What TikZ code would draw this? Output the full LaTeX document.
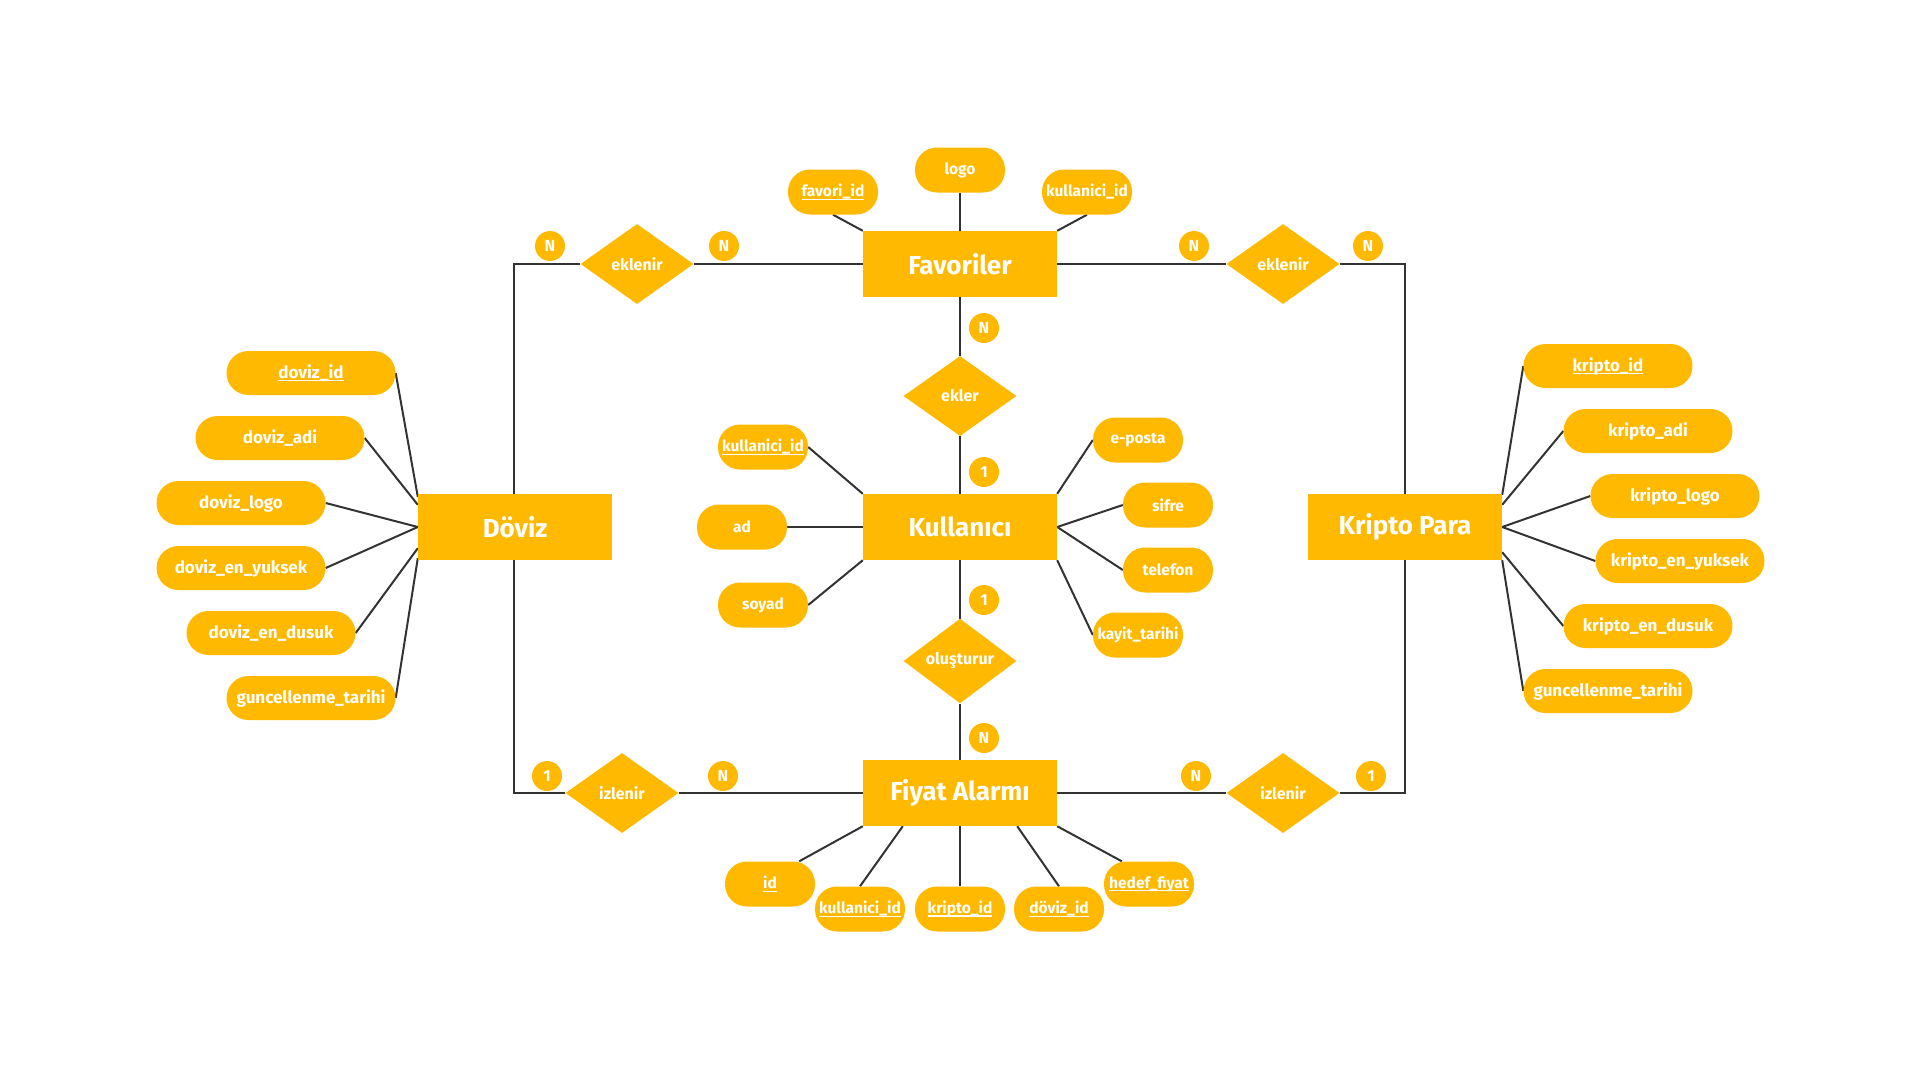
\documentclass[tikz,border=0pt]{standalone}
\usepackage{fontspec}
\setmainfont{Fira Sans}
\usetikzlibrary{shapes.geometric,calc}
\definecolor{ey}{RGB}{255,185,0}
\definecolor{ln}{RGB}{51,51,51}
\pgfdeclarelayer{bg}
\pgfsetlayers{bg,main}
\newcommand\myul[1]{\setbox0\hbox{#1}\leavevmode\rlap{\raisebox{-3pt}{\rule{\wd0}{1.2pt}}}\box0}
\begin{document}
\begin{tikzpicture}[x=1pt,y=-1pt,
 ent/.style={rectangle,fill=ey,text=white,minimum width=194pt,minimum height=66pt,inner sep=0pt,font=\fontsize{26}{28}\selectfont\bfseries},
 attrL/.style={rectangle,rounded corners=22pt,fill=ey,text=white,minimum width=169pt,minimum height=44pt,inner sep=0pt,font=\fontsize{17}{19}\selectfont\bfseries},
 attrS/.style={attrL,minimum width=90pt,minimum height=45pt,font=\fontsize{15.5}{17}\selectfont\bfseries},
 rel/.style={diamond,fill=ey,text=white,minimum width=113pt,minimum height=80pt,inner sep=0pt,font=\fontsize{16}{18}\selectfont\bfseries},
 card/.style={circle,fill=ey,text=white,minimum size=30pt,inner sep=0pt,font=\fontsize{16}{18}\selectfont\bfseries},
 conn/.style={draw=ln,line width=2pt},
]
\begin{pgfonlayer}{bg}
\fill[white] (0,0) rectangle (1920,1080);
\end{pgfonlayer}
\useasboundingbox (0,0) rectangle (1920,1080);

% entities
\node[ent] (fav) at (960,264) {Favoriler};
\node[ent] (dov) at (515,527) {Döviz};
\node[ent] (kul) at (960,527) {Kullanıcı};
\node[ent] (kri) at (1405,527) {Kripto Para};
\node[ent] (fiy) at (960,793) {Fiyat Alarmı};

% relationships
\node[rel] (ekL) at (637,264) {eklenir};
\node[rel] (ekR) at (1283,264) {eklenir};
\node[rel] (ekl) at (960,396) {ekler};
\node[rel] (olu) at (960,661) {oluşturur};
\node[rel] (izL) at (622,793) {izlenir};
\node[rel] (izR) at (1283,793) {izlenir};

% cardinalities
\node[card] (c1) at (550,246) {N};
\node[card] (c2) at (724,246) {N};
\node[card] (c3) at (1194,246) {N};
\node[card] (c4) at (1368,246) {N};
\node[card] (c5) at (984,328) {N};
\node[card] (c6) at (984,472) {1};
\node[card] (c7) at (984,600) {1};
\node[card] (c8) at (984,738) {N};
\node[card] (c9) at (547,776) {1};
\node[card] (c10) at (723,776) {N};
\node[card] (c11) at (1196,776) {N};
\node[card] (c12) at (1371,776) {1};

% Favoriler attributes
\node[attrS] (fid) at (833,192) {\myul{favori\_id}};
\node[attrS] (flogo) at (960,170) {logo};
\node[attrS] (fkid) at (1087,192) {kullanici\_id};

% Kullanici attributes
\node[attrS] (kkid) at (763,447) {\myul{kullanici\_id}};
\node[attrS] (kad) at (742,527) {ad};
\node[attrS] (ksoy) at (763,605) {soyad};
\node[attrS] (kep) at (1138,440) {e-posta};
\node[attrS] (ksif) at (1168,505) {sifre};
\node[attrS] (ktel) at (1168,570) {telefon};
\node[attrS] (kkt) at (1138,635) {kayit\_tarihi};

% Doviz attributes
\node[attrL] (d1) at (311,373) {\myul{doviz\_id}};
\node[attrL] (d2) at (280,438) {doviz\_adi};
\node[attrL] (d3) at (241,503) {doviz\_logo};
\node[attrL] (d4) at (241,568) {doviz\_en\_yuksek};
\node[attrL] (d5) at (271,633) {doviz\_en\_dusuk};
\node[attrL] (d6) at (311,698) {guncellenme\_tarihi};

% Kripto attributes
\node[attrL] (k1) at (1608,366) {\myul{kripto\_id}};
\node[attrL] (k2) at (1648,431) {kripto\_adi};
\node[attrL] (k3) at (1675,496) {kripto\_logo};
\node[attrL] (k4) at (1680,561) {kripto\_en\_yuksek};
\node[attrL] (k5) at (1648,626) {kripto\_en\_dusuk};
\node[attrL] (k6) at (1608,691) {guncellenme\_tarihi};

% Fiyat Alarmi attributes
\node[attrS] (a1) at (770,884) {\myul{id}};
\node[attrS] (a2) at (860,909) {\myul{kullanici\_id}};
\node[attrS] (a3) at (960,909) {\myul{kripto\_id}};
\node[attrS] (a4) at (1059,909) {\myul{döviz\_id}};
\node[attrS] (a5) at (1149,884) {\myul{hedef\_fiyat}};

\coordinate (cTL) at (514,264);
\coordinate (cBL) at (514,793);
\coordinate (cTR) at (1405,264);
\coordinate (cBR) at (1405,793);

\begin{pgfonlayer}{bg}
% frame
\draw[conn] (ekL.west) -- (cTL) -- (cTL |- dov.north);
\draw[conn] (cBL |- dov.south) -- (cBL) -- (izL.west);
\draw[conn] (ekR.east) -- (cTR) -- (cTR |- kri.north);
\draw[conn] (cBR |- kri.south) -- (cBR) -- (izR.east);
\draw[conn] (ekL.east) -- (fav.west);
\draw[conn] (fav.east) -- (ekR.west);
\draw[conn] (izL.east) -- (fiy.west);
\draw[conn] (fiy.east) -- (izR.west);
\draw[conn] (fav.south) -- (ekl.north);
\draw[conn] (ekl.south) -- (kul.north);
\draw[conn] (kul.south) -- (olu.north);
\draw[conn] (olu.south) -- (fiy.north);
% Favoriler
\draw[conn] (fid.south) -- (fav.north west);
\draw[conn] (flogo.south) -- (fav.north);
\draw[conn] (fkid.south) -- (fav.north east);
% Kullanici
\draw[conn] (kkid.east) -- (kul.north west);
\draw[conn] (kad.east) -- (kul.west);
\draw[conn] (ksoy.east) -- (kul.south west);
\draw[conn] (kep.west) -- (kul.north east);
\draw[conn] (ksif.west) -- (kul.east);
\draw[conn] (ktel.west) -- (kul.east);
\draw[conn] (kkt.west) -- (kul.south east);
% Doviz
\draw[conn] (d1.east) -- ($(dov.north west)+(0,3)$);
\draw[conn] (d2.east) -- ($(dov.north west)+(0,11)$);
\draw[conn] (d3.east) -- (dov.west);
\draw[conn] (d4.east) -- (dov.west);
\draw[conn] (d5.east) -- ($(dov.south west)+(0,-12)$);
\draw[conn] (d6.east) -- ($(dov.south west)+(0,-2)$);
% Kripto
\draw[conn] (k1.west) -- ($(kri.north east)+(0,1)$);
\draw[conn] (k2.west) -- ($(kri.north east)+(0,11)$);
\draw[conn] (k3.west) -- (kri.east);
\draw[conn] (k4.west) -- (kri.east);
\draw[conn] (k5.west) -- ($(kri.south east)+(0,-8)$);
\draw[conn] (k6.west) -- (kri.south east);
% Fiyat Alarmi
\draw[conn] ($(a1.north east)+(-16,0)$) -- (fiy.south west);
\draw[conn] (a2.north) -- ($(fiy.south west)+(40,0)$);
\draw[conn] (a3.north) -- (fiy.south);
\draw[conn] (a4.north) -- ($(fiy.south east)+(-40,0)$);
\draw[conn] ($(a5.north west)+(18,0)$) -- (fiy.south east);
\end{pgfonlayer}
\end{tikzpicture}
\end{document}
